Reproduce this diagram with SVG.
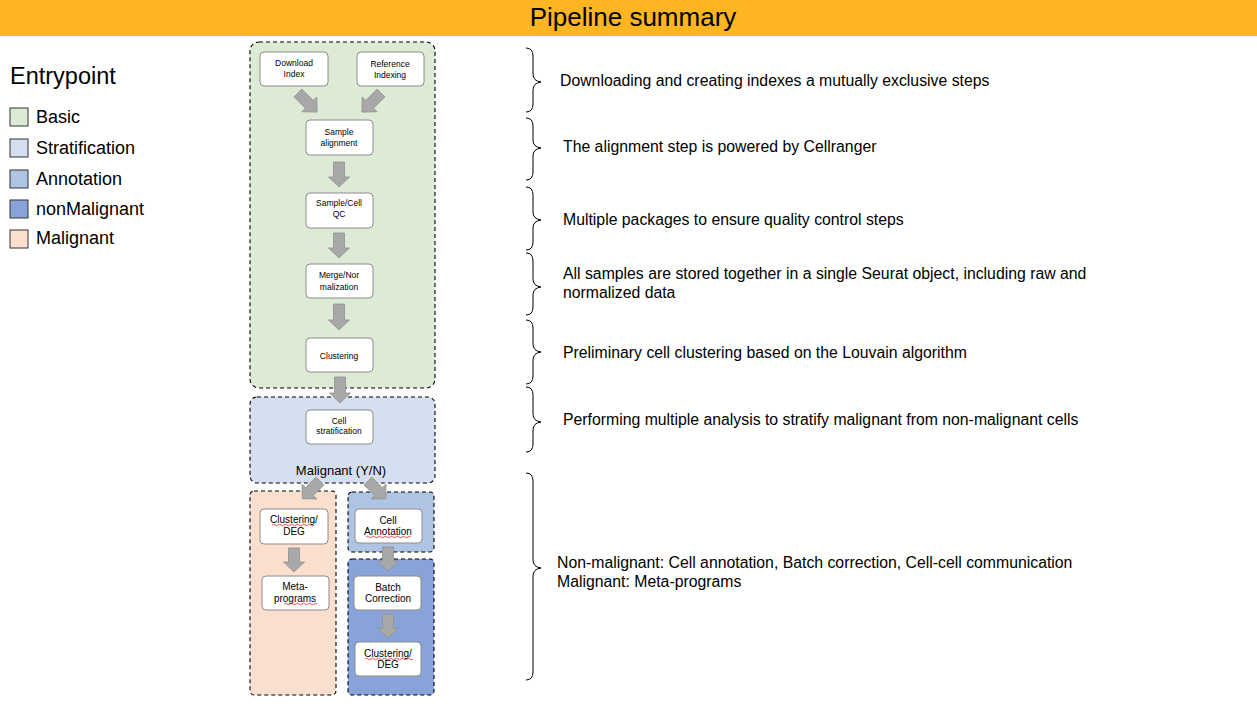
<svg xmlns="http://www.w3.org/2000/svg" width="1257" height="704" viewBox="0 0 1257 704">
<defs>
<style>
text{font-family:"Liberation Sans",Arial,Helvetica,sans-serif;fill:#000}
.box{fill:#fff;stroke:#8c8c8c;stroke-width:1}
.cont{stroke:#000;stroke-width:1.1;stroke-dasharray:4 3}
.arr{fill:#a8a8a8;stroke:#909090;stroke-width:0.8}
.brace{fill:none;stroke:#000;stroke-width:1}
.lg{stroke:#333;stroke-width:1}
.sq{fill:none;stroke:#e02020;stroke-width:0.8}
.bt{font-size:8.5px;text-anchor:middle}
.bt2{font-size:10px;text-anchor:middle}
.desc{font-size:15.8px}
.leg{font-size:18px}
</style>
</defs>
<rect width="1257" height="704" fill="#fff"/>
<g id="header">
<rect x="0" y="0" width="1257" height="36" fill="#fdb522"/>
<text x="633" y="26" font-size="26" text-anchor="middle">Pipeline summary</text>
</g>
<g id="legend">
<text x="10" y="84" font-size="23.5">Entrypoint</text>
<rect class="lg" x="10" y="108" width="18" height="18" fill="#ddebd6"/>
<text class="leg" x="36" y="123">Basic</text>
<rect class="lg" x="10" y="139" width="18" height="18" fill="#d6dff0"/>
<text class="leg" x="36" y="154">Stratification</text>
<rect class="lg" x="10" y="170" width="18" height="18" fill="#afc3e4"/>
<text class="leg" x="36" y="185">Annotation</text>
<rect class="lg" x="10" y="200" width="18" height="18" fill="#88a3d8"/>
<text class="leg" x="36" y="215">nonMalignant</text>
<rect class="lg" x="10" y="230" width="18" height="18" fill="#fadfcf"/>
<text class="leg" x="36" y="244">Malignant</text>
</g>
<g id="containers">
<rect id="basic" class="cont" x="250" y="42" width="185" height="346" rx="9" fill="#ddebd6"/>
<rect id="stratification" class="cont" x="250" y="397" width="185" height="86" rx="7" fill="#d6dff0"/>
<text x="341" y="475" font-size="13" text-anchor="middle">Malignant (Y/N)</text>
<rect id="malignant" class="cont" x="250" y="491" width="86" height="204" rx="4" fill="#fadfcf"/>
<rect id="annotation" class="cont" x="348" y="492" width="86" height="60" rx="4" fill="#afc3e4"/>
<rect id="nonmalignant" class="cont" x="348" y="559" width="86" height="136" rx="4" fill="#88a3d8"/>
</g>
<g id="connectors">
<path class="arr" transform="translate(298,93) rotate(-45)" d="M-5.5,0 H5.5 V16 H10.5 L0,27 L-10.5,16 H-5.5 Z"/>
<path class="arr" transform="translate(381,93) rotate(45)" d="M-5.5,0 H5.5 V16 H10.5 L0,27 L-10.5,16 H-5.5 Z"/>
<path class="arr" transform="translate(339,162)" d="M-5.5,0 H5.5 V15 H10.5 L0,25 L-10.5,15 H-5.5 Z"/>
<path class="arr" transform="translate(339,233)" d="M-5.5,0 H5.5 V15 H10.5 L0,25 L-10.5,15 H-5.5 Z"/>
<path class="arr" transform="translate(339,304)" d="M-5.5,0 H5.5 V16 H10.5 L0,26 L-10.5,16 H-5.5 Z"/>
<path class="arr" transform="translate(340,377)" d="M-5.5,0 H5.5 V16 H10.5 L0,26 L-10.5,16 H-5.5 Z"/>
<path class="arr" transform="translate(320,481) rotate(45)" d="M-5.5,0 H5.5 V15 H10.5 L0,25 L-10.5,15 H-5.5 Z"/>
<path class="arr" transform="translate(368,481) rotate(-45)" d="M-5.5,0 H5.5 V15 H10.5 L0,25 L-10.5,15 H-5.5 Z"/>
<path class="arr" transform="translate(294,548)" d="M-5.5,0 H5.5 V14 H10.5 L0,24 L-10.5,14 H-5.5 Z"/>
<path class="arr" transform="translate(388,547)" d="M-5.5,0 H5.5 V14 H10.5 L0,24 L-10.5,14 H-5.5 Z"/>
<path class="arr" transform="translate(388,614)" d="M-5.5,0 H5.5 V14 H10.5 L0,24 L-10.5,14 H-5.5 Z"/>
</g>
<g id="n-download">
<rect class="box" x="260" y="52" width="68" height="34" rx="4"/>
<text class="bt" x="294" y="66">Download</text><text class="bt" x="294" y="77">Index</text>
</g>
<g id="n-refindex">
<rect class="box" x="357" y="52" width="67" height="34" rx="4"/>
<text class="bt" x="390" y="67">Reference</text><text class="bt" x="390" y="78">Indexing</text>
</g>
<g id="n-align">
<rect class="box" x="306" y="120" width="67" height="35" rx="4"/>
<text class="bt" x="339" y="135">Sample</text><text class="bt" x="339" y="146">alignment</text>
</g>
<g id="n-qc">
<rect class="box" x="306" y="193" width="67" height="35" rx="4"/>
<text class="bt" x="339" y="206" font-size="8">Sample/Cell</text><text class="bt" x="339" y="217" font-size="8">QC</text>
</g>
<g id="n-merge">
<rect class="box" x="306" y="264" width="67" height="34" rx="4"/>
<text class="bt" x="339" y="278">Merge/Nor</text><text class="bt" x="339" y="290">malization</text>
</g>
<g id="n-clustering">
<rect class="box" x="306" y="338" width="67" height="34" rx="4"/>
<text class="bt" x="339" y="359">Clustering</text>
</g>
<g id="n-strat">
<rect class="box" x="306" y="410" width="67" height="34" rx="4"/>
<text class="bt" x="339" y="424" font-size="7">Cell</text><text class="bt" x="339" y="434" font-size="7">stratification</text>
</g>
<g id="n-clustdeg-m">
<rect class="box" x="260" y="509" width="68" height="35" rx="4"/>
<text class="bt2" x="294" y="523">Clustering/</text><text class="bt2" x="294" y="535">DEG</text>
<path class="sq" d="M272,525 q1.5,-1.5 3,0 t3,0 t3,0 t3,0 t3,0 t3,0 t3,0 t3,0 t3,0 t3,0 t3,0 t3,0 t3,0 t3,0"/>
</g>
<g id="n-meta">
<rect class="box" x="262" y="576" width="67" height="34" rx="4"/>
<text class="bt2" x="295" y="590">Meta-</text><text class="bt2" x="295" y="602">programs</text>
<path class="sq" d="M284,604 q1.5,-1.5 3,0 t3,0 t3,0 t3,0 t3,0 t3,0 t3,0 t3,0 t3,0 t3,0 t3,0"/>
</g>
<g id="n-cellannot">
<rect class="box" x="355" y="509" width="67" height="34" rx="4"/>
<text class="bt2" x="388" y="524">Cell</text><text class="bt2" x="388" y="535">Annotation</text>
<path class="sq" d="M366,537 q1.5,-1.5 3,0 t3,0 t3,0 t3,0 t3,0 t3,0 t3,0 t3,0 t3,0 t3,0 t3,0 t3,0 t3,0 t3,0 t3,0"/>
</g>
<g id="n-batch">
<rect class="box" x="354" y="576" width="67" height="34" rx="4"/>
<text class="bt2" x="388" y="591">Batch</text><text class="bt2" x="388" y="602">Correction</text>
</g>
<g id="n-clustdeg-n">
<rect class="box" x="355" y="642" width="66" height="34" rx="4"/>
<text class="bt2" x="388" y="657">Clustering/</text><text class="bt2" x="388" y="668">DEG</text>
<path class="sq" d="M365,659 q1.5,-1.5 3,0 t3,0 t3,0 t3,0 t3,0 t3,0 t3,0 t3,0 t3,0 t3,0 t3,0 t3,0 t3,0 t3,0 t3,0 t3,0"/>
</g>
<g id="braces">
<path class="brace" d="M526,48 Q533,48 533,56 V74 Q533,81 541,82 Q533,83 533,90 V104 Q533,112 526,112"/>
<path class="brace" d="M526,118 Q533,118 533,126 V140 Q533,147 541,148 Q533,149 533,156 V172 Q533,180 526,180"/>
<path class="brace" d="M526,187 Q533,187 533,195 V212 Q533,219 541,220 Q533,221 533,228 V242 Q533,250 526,250"/>
<path class="brace" d="M526,253 Q533,253 533,261 V279 Q533,286 541,287 Q533,288 533,295 V307 Q533,315 526,315"/>
<path class="brace" d="M526,320 Q533,320 533,328 V344 Q533,351 541,352 Q533,353 533,360 V376 Q533,384 526,384"/>
<path class="brace" d="M526,387 Q533,387 533,395 V414 Q533,421 541,422 Q533,423 533,430 V444 Q533,452 526,452"/>
<path class="brace" d="M526,473 Q533,473 533,481 V560 Q533,567 541,568 Q533,569 533,576 V672 Q533,680 526,680"/>
</g>
<g id="descriptions">
<text class="desc" x="560" y="86">Downloading and creating indexes a mutually exclusive steps</text>
<text class="desc" x="563" y="152">The alignment step is powered by Cellranger</text>
<text class="desc" x="563" y="225">Multiple packages to ensure quality control steps</text>
<text class="desc" x="563" y="279">All samples are stored together in a single Seurat object, including raw and</text>
<text class="desc" x="563" y="298">normalized data</text>
<text class="desc" x="563" y="358">Preliminary cell clustering based on the Louvain algorithm</text>
<text class="desc" x="563" y="425">Performing multiple analysis to stratify malignant from non-malignant cells</text>
<text class="desc" x="557" y="568">Non-malignant: Cell annotation, Batch correction, Cell-cell communication</text>
<text class="desc" x="557" y="587">Malignant: Meta-programs</text>
</g>
</svg>
